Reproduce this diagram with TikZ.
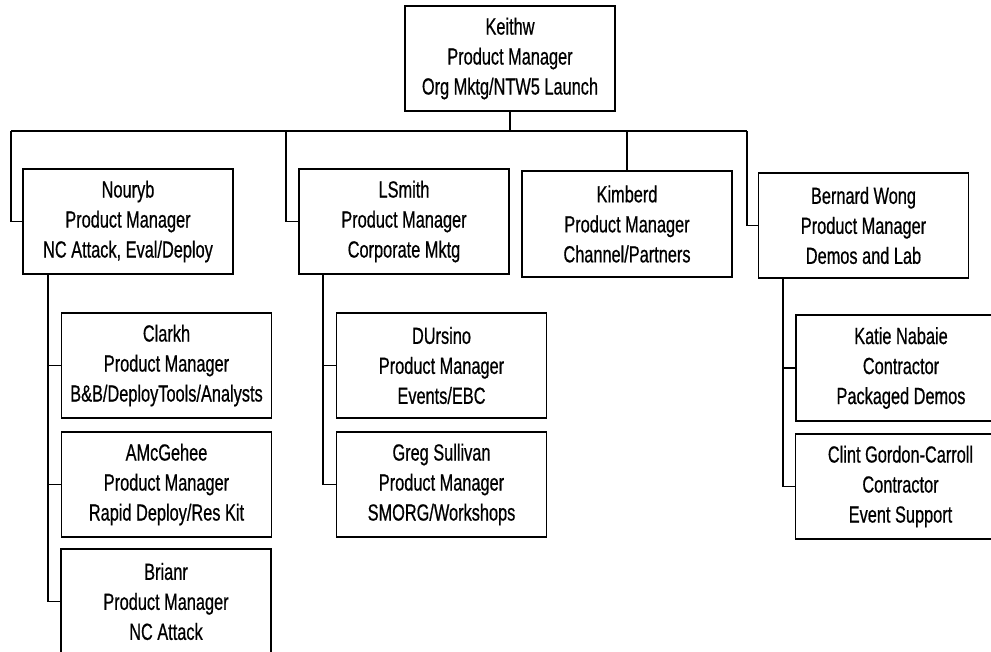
\documentclass[tikz,border=0pt]{standalone}
\usepackage{fontspec}
\setmainfont{Liberation Sans}[FakeStretch=0.7,FakeBold=0.6]
\usepackage{tikz}
\usetikzlibrary{positioning,calc}

\begin{document}
\begin{tikzpicture}[x=0.75pt,y=-0.75pt,line width=1.4pt,
    box/.style={draw, line width=1.4pt, minimum width=157.5pt, minimum height=79pt,
        inner sep=0pt, align=center, font=\fontsize{17.5}{22.5}\selectfont}]
    \useasboundingbox (0,0) rectangle (991,651);
    % top
    \node[box] (keithw) at (510,58.5) {Keithw\\Product Manager\\Org Mktg/NTW5 Launch};
    % second row
    \node[box] (nouryb) at (128,221.5) {Nouryb\\Product Manager\\NC Attack, Eval/Deploy};
    \node[box] (lsmith) at (404,221.5) {LSmith\\Product Manager\\Corporate Mktg};
    \node[box] (kimberd) at (627,224) {Kimberd\\Product Manager\\Channel/Partners};
    \node[box] (bwong) at (863.5,225.5) {Bernard Wong\\Product Manager\\Demos and Lab};
    % under Nouryb
    \node[box] (clarkh) at (166.5,365.5) {Clarkh\\Product Manager\\B\&B/DeployTools/Analysts};
    \node[box] (amcgehee) at (166.5,484.5) {AMcGehee\\Product Manager\\Rapid Deploy/Res Kit};
    \node[box] (brianr) at (166,601.5) {Brianr\\Product Manager\\NC Attack};
    % under LSmith
    \node[box] (dursino) at (441.5,365.5) {DUrsino\\Product Manager\\Events/EBC};
    \node[box] (gsullivan) at (441.5,484.5) {Greg Sullivan\\Product Manager\\SMORG/Workshops};
    % under Bernard Wong
    \node[box] (katie) at (901,368) {Katie Nabaie\\Contractor\\Packaged Demos};
    \node[box] (clint) at (900.5,486.5) {Clint Gordon-Carroll\\Contractor\\Event Support};

    % bus
    \coordinate (busL) at (11,131);
    \coordinate (busR) at (747,131);
    \coordinate (busLS) at (286,131);
    \draw (keithw.south) -- (keithw.south |- busL);
    \draw (busL) -- (busR);
    \draw (busL) |- (nouryb.west);
    \draw (busLS) |- (lsmith.west);
    \draw (kimberd.north |- busL) -- (kimberd.north);
    \draw (busR) |- (bwong.west);

    % spines
    \coordinate (nspine) at ($(nouryb.south west)+(26,0)$);
    \draw (nspine) |- (brianr.west);
    \draw (nspine |- clarkh.west) -- (clarkh.west);
    \draw (nspine |- amcgehee.west) -- (amcgehee.west);

    \coordinate (lspine) at ($(lsmith.south west)+(25,0)$);
    \draw (lspine) |- (gsullivan.west);
    \draw (lspine |- dursino.west) -- (dursino.west);

    \coordinate (bspine) at ($(bwong.south west)+(25,0)$);
    \draw (bspine) |- (clint.west);
    \draw (bspine |- katie.west) -- (katie.west);
\end{tikzpicture}
\end{document}
